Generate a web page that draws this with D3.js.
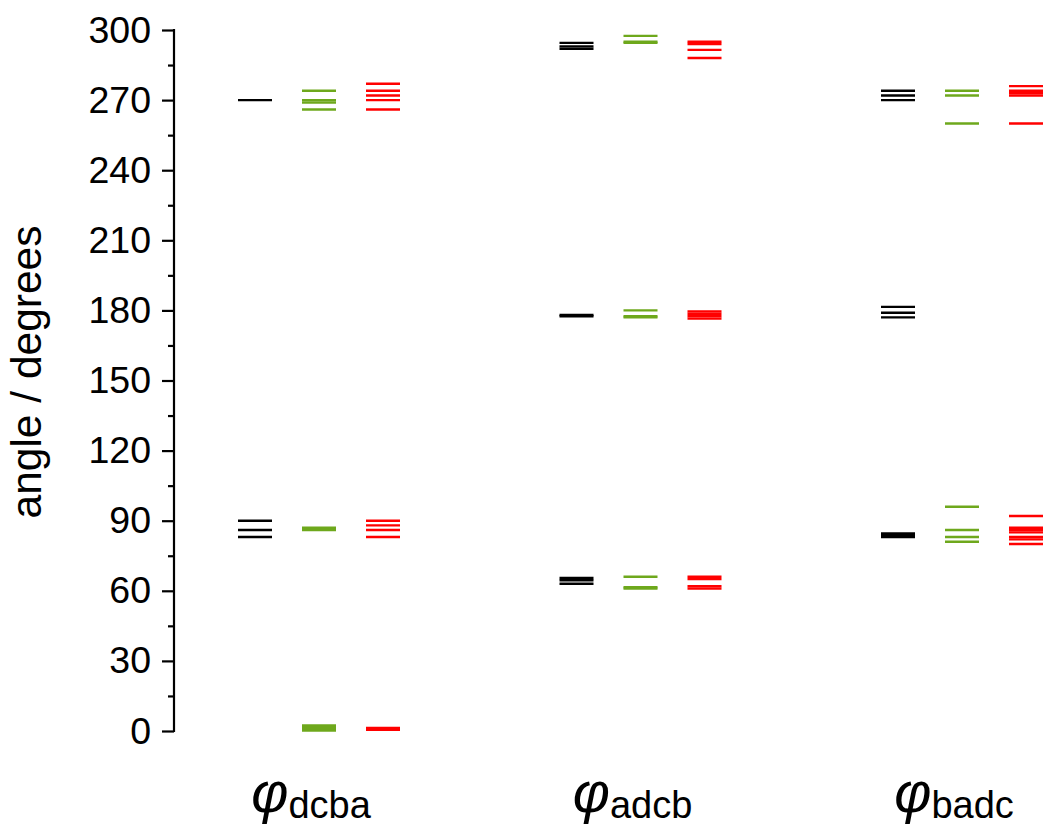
<!DOCTYPE html>
<html>
<head>
<meta charset="utf-8">
<script src="https://cdn.jsdelivr.net/npm/d3@7"></script>
<style>
  html, body { margin: 0; padding: 0; background: #fff; }
  svg { display: block; font-family: "Liberation Sans", Arial, sans-serif; }
</style>
</head>
<body>
<svg id="chart" width="1047" height="828"></svg>
<script>
// ---- data ----
const categories = ["dcba", "adcb", "badc"];
const seriesNames = ["black", "green", "red"];
const seriesColors = ["#000000", "#6ea81c", "#ff0000"];
// values per category (angle in degrees), one list per series
const blackValues = [
  [270, 90, 86, 83],
  [294.5, 293, 292, 178, 177.5, 65.5, 64.5, 63],
  [274, 272, 270, 181.5, 179, 177, 84.5, 83.8, 83]
];
const greenValues = [
  [274, 270, 269, 266, 87, 86, 2.4, 1.8, 1.2, 0.6, 0.2],
  [297.5, 295, 294.5, 180, 177.5, 177, 66, 61.5, 61],
  [274, 272, 260, 96, 86, 83, 81]
];
const redValues = [
  [277, 274, 272, 270, 266, 90, 88, 86, 83, 1.3, 0.5],
  [295, 294, 291.5, 288, 179.5, 178.5, 177.5, 176.5, 66, 65, 62, 61],
  [276, 274, 273, 272, 260, 92, 87, 86, 85, 83, 82, 80]
];
const majorTicks = [0, 30, 60, 90, 120, 150, 180, 210, 240, 270, 300];
const minorTicks = [15, 45, 75, 105, 135, 165, 195, 225, 255, 285];
const yTitle = "angle / degrees";
const symbol = "\u03C6";

// ---- layout ----
const svg = d3.select("#chart");
const axisX = 174;
const y = d3.scaleLinear().domain([0, 300]).range([731, 30]);
const x = d3.scalePoint().domain(categories).range([319, 962]);
const off = d3.scalePoint().domain(seriesNames).range([-64, 64]);
const halfW = 17;

// ---- axis ----
const gAxis = svg.append("g").attr("transform", `translate(${axisX},0)`);
gAxis.call(d3.axisLeft(y).tickValues(majorTicks).tickSize(12).tickPadding(11).tickFormat(d3.format("d")))
  .call(g => g.select(".domain").attr("stroke", "#000").attr("stroke-width", 2.2).attr("d", `M0,${y(0)+1}V${y(300)-1}`))
  .call(g => g.selectAll(".tick line").attr("stroke", "#000").attr("stroke-width", 2.2))
  .call(g => g.selectAll(".tick text").attr("fill", "#000").attr("font-size", 37.5)
    .attr("font-family", "'Liberation Sans', Arial, sans-serif"));
gAxis.append("g").call(d3.axisLeft(y).tickValues(minorTicks).tickSize(6).tickFormat(""))
  .call(g => g.select(".domain").remove())
  .call(g => g.selectAll(".tick line").attr("stroke", "#000").attr("stroke-width", 2.2));

// y title
svg.append("text")
  .attr("transform", `translate(41,372) rotate(-90)`)
  .attr("text-anchor", "middle")
  .attr("font-size", 42.5)
  .attr("fill", "#000")
  .text(yTitle);

// ---- marks ----
const allSeries = [blackValues, greenValues, redValues];
allSeries.forEach((vals, si) => {
  const name = seriesNames[si];
  const rows = [];
  vals.forEach((list, ci) => list.forEach(v => rows.push({ cat: categories[ci], v })));
  svg.append("g").selectAll("line").data(rows).join("line")
    .attr("x1", d => x(d.cat) + off(name) - halfW)
    .attr("x2", d => x(d.cat) + off(name) + halfW)
    .attr("y1", d => y(d.v))
    .attr("y2", d => y(d.v))
    .attr("stroke", seriesColors[si])
    .attr("stroke-width", 2.4);
});

// ---- category labels ----
categories.forEach(c => {
  const t = svg.append("text")
    .attr("x", x(c) - 8)
    .attr("y", 812)
    .attr("text-anchor", "middle")
    .attr("fill", "#000");
  t.append("tspan").attr("font-size", 57).attr("font-style", "italic").text(symbol);
  t.append("tspan").attr("font-size", 38).attr("dy", 6).text(c);
});
</script>
</body>
</html>
